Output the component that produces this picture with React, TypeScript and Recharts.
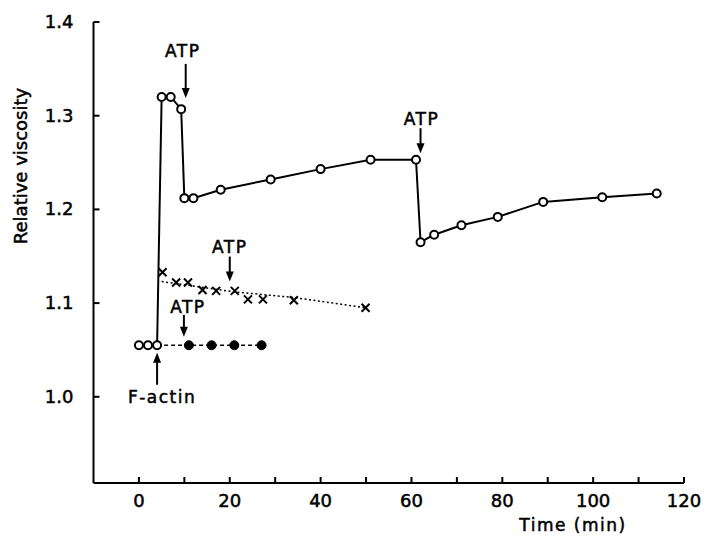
import React from 'react';
import { ComposedChart, Line, XAxis, YAxis, ReferenceDot } from 'recharts';

// Open circles, solid line (time in min, relative viscosity)
const mainTime = [0, 2, 4, 5, 7, 9.3, 10, 12, 18, 29, 40, 51, 61, 62, 65, 71, 79, 89, 102, 114];
const mainVisc = [1.055, 1.055, 1.055, 1.32, 1.32, 1.307, 1.212, 1.212, 1.221, 1.232, 1.243, 1.253, 1.253, 1.165, 1.173, 1.183, 1.192, 1.208, 1.213, 1.217];

// Filled circles, dashed line (starts from the F-actin point)
const filledTime = [4, 11, 16, 21, 27];
const filledVisc = [1.055, 1.055, 1.055, 1.055, 1.055];

// Crosses
const crossTime = [5.2, 8.2, 10.8, 14, 17, 21.1, 24, 27.3, 34.1, 49.9];
const crossVisc = [1.133, 1.122, 1.122, 1.114, 1.113, 1.113, 1.104, 1.104, 1.103, 1.095];

// Dotted trend through crosses
const trendTime = [5, 21, 34, 50];
const trendVisc = [1.123, 1.112, 1.106, 1.095];

const xTicks = [0, 10, 20, 30, 40, 50, 60, 70, 80, 90, 100, 110, 120];
const yTicks = [1.0, 1.1, 1.2, 1.3, 1.4];

// Annotations: arrow tip positions in data units
const annTime = [10.3, 62.0, 20.0, 9.9, 4.0];
const annVisc = [1.319, 1.26, 1.123, 1.064, 1.047];
const annLabel = ['ATP', 'ATP', 'ATP', 'ATP', 'F-actin'];
const annDir = ['down', 'down', 'down', 'down', 'up'];

const annStyle = [
  { len: 34, gap: 7, dx: -3 },
  { len: 25, gap: 3, dx: 1 },
  { len: 25, gap: 4, dx: 0 },
  { len: 22, gap: 2, dx: 4 },
  { len: 32, gap: 18, dx: 5 },
];

const zip = (xs: number[], ys: number[]) => xs.map((x, i) => ({ x, y: ys[i] }));
const mainData = zip(mainTime, mainVisc);
const filledData = zip(filledTime, filledVisc);
const crossData = zip(crossTime, crossVisc);
const trendData = zip(trendTime, trendVisc);

const FONT = '"DejaVu Sans", sans-serif';
const TXT = { fontFamily: FONT, fill: '#000', stroke: '#000', strokeWidth: 0.5 };

const XTick = (props: any) => {
  const { x, y, payload } = props;
  return (
    <g>
      <line x1={x} y1={y} x2={x} y2={y - 6} stroke="#000" strokeWidth={2} />
      {payload.value % 20 === 0 && (
        <text x={x} y={y + 24} textAnchor="middle" fontSize={18} {...TXT}>
          {payload.value}
        </text>
      )}
    </g>
  );
};

const YTick = (props: any) => {
  const { x, y, payload } = props;
  return (
    <g>
      <line x1={x} y1={y} x2={x + 6} y2={y} stroke="#000" strokeWidth={2} />
      <text x={x - 20} y={y + 6} textAnchor="end" fontSize={18} {...TXT}>
        {payload.value.toFixed(1)}
      </text>
    </g>
  );
};

const makeArrow = (i: number) => (props: any) => {
  const { cx, cy } = props;
  const s = annStyle[i];
  const down = annDir[i] === 'down';
  if (down) {
    const top = cy - s.len;
    return (
      <g>
        <line x1={cx} y1={top} x2={cx} y2={cy - 8} stroke="#000" strokeWidth={2} />
        <path d={`M${cx - 4},${cy - 10} L${cx + 4},${cy - 10} L${cx},${cy} Z`} fill="#000" />
        <text x={cx + s.dx} y={top - s.gap} textAnchor="middle" fontSize={17} letterSpacing={1.5} {...TXT}>
          {annLabel[i]}
        </text>
      </g>
    );
  }
  const bottom = cy + s.len;
  return (
    <g>
      <line x1={cx} y1={bottom} x2={cx} y2={cy + 8} stroke="#000" strokeWidth={2} />
      <path d={`M${cx - 4},${cy + 10} L${cx + 4},${cy + 10} L${cx},${cy} Z`} fill="#000" />
      <text x={cx + s.dx} y={bottom + s.gap} textAnchor="middle" fontSize={17} letterSpacing={1.5} {...TXT}>
        {annLabel[i]}
      </text>
    </g>
  );
};

const openDot = (props: any) => {
  const { cx, cy, index } = props;
  return <circle key={`o${index}`} cx={cx} cy={cy} r={4} fill="#fff" stroke="#000" strokeWidth={2} />;
};

const filledDot = (props: any) => {
  const { cx, cy, index } = props;
  if (index === 0) return <g key={`f${index}`} />;
  return <circle key={`f${index}`} cx={cx} cy={cy} r={4.5} fill="#000" stroke="#000" strokeWidth={1} />;
};

const crossDot = (props: any) => {
  const { cx, cy, index } = props;
  const d = 4;
  return (
    <path
      key={`c${index}`}
      d={`M${cx - d},${cy - d} L${cx + d},${cy + d} M${cx - d},${cy + d} L${cx + d},${cy - d}`}
      stroke="#000"
      strokeWidth={2}
      fill="none"
    />
  );
};

export default function App() {
  return (
    <div style={{ position: 'absolute', left: 0, top: 0, width: 704, height: 537, background: '#fff' }}>
      <ComposedChart
        width={704}
        height={537}
        margin={{ top: 22, right: 20, bottom: 53, left: 92.5 }}
        style={{ fontFamily: FONT }}
      >
        <XAxis
          type="number"
          dataKey="x"
          domain={[-10, 120]}
          ticks={xTicks}
          allowDataOverflow
          height={1}
          tickSize={0}
          tickMargin={0}
          tickLine={false}
          axisLine={{ stroke: '#000', strokeWidth: 2 }}
          tick={<XTick />}
          interval={0}
        />
        <YAxis
          type="number"
          dataKey="y"
          domain={[0.908, 1.4]}
          ticks={yTicks}
          allowDataOverflow
          width={1}
          tickSize={0}
          tickMargin={0}
          tickLine={false}
          axisLine={{ stroke: '#000', strokeWidth: 2 }}
          tick={<YTick />}
          interval={0}
        />
        <Line data={trendData} dataKey="y" type="linear" stroke="#000" strokeWidth={1.5} strokeDasharray="2 2.5" dot={false} isAnimationActive={false} />
        <Line data={crossData} dataKey="y" type="linear" stroke="none" strokeWidth={0} dot={crossDot} isAnimationActive={false} />
        <Line data={filledData} dataKey="y" type="linear" stroke="#000" strokeWidth={1.5} strokeDasharray="4 3" dot={filledDot} isAnimationActive={false} />
        <Line data={mainData} dataKey="y" type="linear" stroke="#000" strokeWidth={2} dot={openDot} isAnimationActive={false} />
        {annTime.map((t, i) => (
          <ReferenceDot key={`a${i}`} x={t} y={annVisc[i]} ifOverflow="visible" shape={makeArrow(i)} />
        ))}
        <text x={27} y={166} transform="rotate(-90 27 166)" textAnchor="middle" fontSize={18} {...TXT}>
          Relative viscosity
        </text>
        <text x={573} y={531} textAnchor="middle" fontSize={17} letterSpacing={1.5} {...TXT}>
          Time (min)
        </text>
      </ComposedChart>
    </div>
  );
}
